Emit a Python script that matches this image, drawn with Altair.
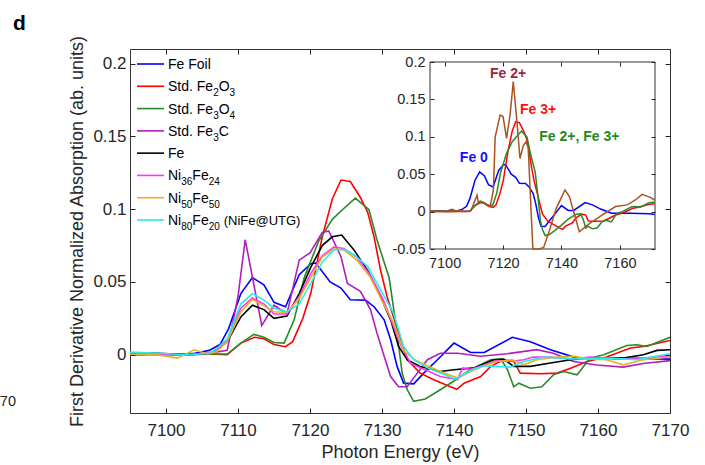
import altair as alt
import pandas as pd

FONT = "Liberation Sans"
INK = "#262626"
W, H = 540, 364

# ---------------- series data (photon energy / eV, first-derivative normalized absorption) ----------
fe_foil_E = [7095, 7098, 7101, 7104, 7106, 7107.5, 7108.7, 7110.4, 7112, 7113.6,
             7115, 7116.6, 7118.5, 7120.1, 7120.8, 7122.8, 7124.3, 7125.6, 7127.7, 7128.9,
             7130.3, 7131.2, 7132.1, 7133, 7134.4, 7135.8, 7137.7, 7140, 7142.3, 7144.2,
             7148.1, 7150.6, 7153.4, 7157.1, 7163.5, 7170, 7171.9]
fe_foil_y = [0.001, 0.001, 0.0, 0.001, 0.003, 0.007, 0.018, 0.042, 0.053, 0.048,
             0.036, 0.033, 0.055, 0.0625, 0.063, 0.050, 0.0458, 0.0378, 0.0375, 0.033,
             0.024, 0.0103, -0.008, -0.0195, -0.020, -0.0126, -0.0034, 0.008, 0.0016, 0.0016,
             0.012, 0.009, 0.0034, -0.0023, -0.0023, -0.003, -0.004]

fe2o3_E = [7095, 7099, 7103, 7106, 7108.5, 7110.4, 7112.3, 7113.6, 7115, 7116.6,
           7117.6, 7119, 7120.1, 7121.7, 7123.1, 7124.3, 7125.6, 7127, 7128, 7128.9,
           7129.8, 7130.7, 7131.6, 7132.6, 7133.5, 7135.3, 7137.2, 7139.5, 7140.4, 7141.4,
           7143.7, 7145.1, 7146.9, 7148.3, 7149.2, 7152, 7154.3, 7156.2, 7158.5, 7161.2,
           7164.5, 7166.3, 7170, 7171.9]
fe2o3_y = [0.0, 0.0005, 0.0, 0.0005, 0.0, 0.008, 0.012, 0.011, 0.007, 0.0055,
           0.009, 0.025, 0.042, 0.081, 0.107, 0.120, 0.119, 0.108, 0.098, 0.081,
           0.058, 0.040, 0.026, 0.0103, -0.0034, -0.0126, -0.0172, -0.022, -0.0237, -0.0195,
           -0.015, -0.008, -0.0034, -0.0046, -0.0126, -0.013, -0.0126, -0.0092, -0.0046, -0.0016,
           0.0046, 0.0057, 0.0098, 0.0106]

fe3o4_E = [7095, 7099, 7103, 7106, 7108.5, 7110.4, 7112.2, 7113.6, 7115, 7116.4,
           7117.8, 7119.2, 7121.2, 7123.1, 7124.5, 7126.3, 7128.2, 7129.3, 7131, 7131.9,
           7132.8, 7133.5, 7134.4, 7136, 7138.1, 7140, 7142.3, 7145.1, 7146.5, 7147.4,
           7148.3, 7149, 7150.6, 7152.2, 7153.8, 7155.2, 7157.1, 7158.9, 7160.8, 7164,
           7165.4, 7166.8, 7168.6, 7170, 7171.9]
fe3o4_y = [0.0, 0.0005, 0.0, 0.0005, 0.0005, 0.008, 0.014, 0.012, 0.0084, 0.008,
           0.024, 0.053, 0.078, 0.093, 0.0996, 0.1076, 0.0996, 0.079, 0.0527, 0.022,
           -0.0126, -0.024, -0.032, -0.0304, -0.024, -0.018, -0.010, -0.0034, -0.003, -0.010,
           -0.022, -0.0195, -0.023, -0.022, -0.0138, -0.0115, -0.0138, -0.0023, 0.0, 0.0064,
           0.0069, 0.0057, 0.0092, 0.012, 0.0128]

fe3c_E = [7095, 7099, 7103, 7106, 7108.5, 7110, 7111, 7113.3, 7115, 7116.8,
          7118.5, 7120, 7121.7, 7122.6, 7124.3, 7125.2, 7127, 7128.4, 7129.3, 7130.3,
          7131.2, 7132.3, 7133.5, 7134.9, 7136.3, 7138.1, 7140.5, 7143.7, 7147.4, 7151.5,
          7153.8, 7156.6, 7159.8, 7163.5, 7166.3, 7170]
fe3c_y = [0.0, 0.0, 0.0005, 0.001, 0.003, 0.040, 0.079, 0.020, 0.034, 0.028,
          0.065, 0.070, 0.084, 0.085, 0.0675, 0.049, 0.0435, 0.031, 0.015, -0.001,
          -0.015, -0.022, -0.022, -0.0126, -0.0034, 0.001, 0.001, -0.001, 0.0007, 0.0035,
          0.001, -0.0046, -0.007, -0.0085, -0.006, -0.004]

fe_E = [7095, 7099, 7103, 7106, 7107, 7108.5, 7110.4, 7112, 7113.6, 7115,
        7116.8, 7118.5, 7120.1, 7121.7, 7123.1, 7124.4, 7126.1, 7128, 7129.8, 7131.2,
        7132.3, 7133.5, 7135.3, 7138.1, 7140, 7142.8, 7145.5, 7146.9, 7148.3, 7150.6,
        7153.4, 7156.2, 7159, 7163.5, 7166.3, 7168.2, 7170]
fe_y = [0.001, 0.001, 0.0, 0.001, 0.003, 0.009, 0.026, 0.034, 0.031, 0.025,
        0.0266, 0.042, 0.060, 0.075, 0.081, 0.0822, 0.072, 0.058, 0.040, 0.024,
        0.0057, -0.0034, -0.008, -0.0115, -0.0103, -0.009, -0.0034, -0.003, -0.008, -0.008,
        -0.0057, -0.0034, -0.0023, -0.0023, 0.0, 0.003, 0.0034]

ni36_E = [7095, 7099, 7103, 7106, 7107, 7108.5, 7110.4, 7112, 7113.6, 7115,
          7116.8, 7118.5, 7120.1, 7121.7, 7123.3, 7124.7, 7126.5, 7128.4, 7130.2, 7131.6,
          7132.8, 7134, 7136, 7138.1, 7140.5, 7141.2, 7142.3, 7144.2, 7146, 7147.8,
          7149.7, 7151, 7153.4, 7156.2, 7159, 7162.6, 7166.3, 7170]
ni36_y = [0.001, 0.0, 0.0, 0.001, 0.003, 0.010, 0.032, 0.039, 0.035, 0.028,
          0.028, 0.040, 0.0557, 0.068, 0.074, 0.073, 0.067, 0.0545, 0.0375, 0.0195,
          0.0046, -0.006, -0.0103, -0.015, -0.017, -0.009, -0.010, -0.007, -0.004, -0.0046,
          -0.0034, -0.0016, -0.0016, -0.003, -0.0016, -0.003, -0.0023, -0.0007]

ni50_E = [7095, 7098, 7101.6, 7103.9, 7105.8, 7107, 7108.5, 7110.4, 7112, 7113.6,
          7115, 7116.8, 7118.5, 7120.1, 7121.7, 7123.3, 7124.7, 7126.5, 7128.4, 7130,
          7131.6, 7133, 7134.4, 7136.3, 7138.1, 7140.5, 7142.3, 7144.2, 7146, 7148.1,
          7149.7, 7151.5, 7154.3, 7156.6, 7159, 7161.2, 7163.5, 7166.3, 7170]
ni50_y = [0.0, 0.0005, -0.0023, 0.0034, 0.0005, 0.002, 0.009, 0.0295, 0.038, 0.0336,
          0.0295, 0.029, 0.0386, 0.053, 0.067, 0.0727, 0.072, 0.065, 0.053, 0.037,
          0.022, 0.003, -0.003, -0.0076, -0.0115, -0.016, -0.0115, -0.0076, -0.0046, -0.0034,
          -0.0069, -0.0034, -0.0016, -0.001, -0.003, -0.0034, -0.0069, -0.0034, -0.0015]

ni80_E = [7095, 7099, 7103, 7106, 7107, 7108.5, 7110.4, 7112, 7113.6, 7115,
          7116.8, 7118.5, 7120.1, 7121.7, 7123.3, 7124.7, 7126.1, 7128, 7129.8, 7131.6,
          7133, 7134.4, 7136.3, 7138.1, 7140.2, 7142.5, 7144.2, 7146, 7147.8, 7149.7,
          7152.5, 7155.2, 7158, 7161.7, 7165.4, 7170]
ni80_y = [0.0018, 0.001, 0.0, 0.001, 0.004, 0.011, 0.035, 0.042, 0.0375, 0.032,
          0.0295, 0.035, 0.049, 0.0636, 0.072, 0.0725, 0.0687, 0.0607, 0.0446, 0.0286,
          0.0057, -0.0034, -0.009, -0.0126, -0.0168, -0.0103, -0.0076, -0.008, -0.0085, -0.0046,
          -0.0016, -0.0023, -0.003, -0.0023, -0.0034, 0.0007]

# Fe 2+ reference, shown only in the inset
fe2_E = [7095, 7100, 7102.5, 7104, 7107, 7109, 7111.1, 7111.6, 7112.5, 7115.6,
         7116.7, 7117.3, 7119, 7120, 7121.2, 7122.4, 7123.5, 7124.6, 7125.8, 7126.9,
         7127.8, 7128.6, 7130.2, 7132.3, 7133.9, 7135.9, 7138.2, 7141.2, 7142.7, 7146.1,
         7149.5, 7154, 7158.5, 7162.5, 7165.3, 7167.6, 7170.4, 7171.9]
fe2_y = [0.001, 0.0, 0.003, 0.001, 0.0, 0.001, 0.022, 0.011, 0.013, 0.007,
         0.029, 0.100, 0.129, 0.127, 0.098, 0.129, 0.174, 0.127, 0.071, 0.088,
         0.093, 0.086, -0.070, -0.070, -0.048, -0.025, 0.0044, 0.029, 0.020, -0.027,
         -0.016, -0.0045, 0.0068, 0.009, 0.0155, 0.023, 0.019, 0.0155]

series_names = ["Fe Foil", "Std. Fe2O3", "Std. Fe3O4", "Std. Fe3C", "Fe",
                "Ni36Fe24", "Ni50Fe50", "Ni80Fe20 (NiFe@UTG)"]
series_colors = ["#0000ff", "#ff0000", "#2a8a2a", "#b01fbe", "#000000",
                 "#ff33ff", "#edb120", "#22eef0"]
series_E = [fe_foil_E, fe2o3_E, fe3o4_E, fe3c_E, fe_E, ni36_E, ni50_E, ni80_E]
series_y = [fe_foil_y, fe2o3_y, fe3o4_y, fe3c_y, fe_y, ni36_y, ni50_y, ni80_y]

# legend label pieces: (text, kind) with kind n=normal, s=subscript, p=parenthetical
legend_parts = [
    [("Fe Foil", "n")],
    [("Std. Fe", "n"), ("2", "s"), ("O", "n"), ("3", "s")],
    [("Std. Fe", "n"), ("3", "s"), ("O", "n"), ("4", "s")],
    [("Std. Fe", "n"), ("3", "s"), ("C", "n")],
    [("Fe", "n")],
    [("Ni", "n"), ("36", "s"), ("Fe", "n"), ("24", "s")],
    [("Ni", "n"), ("50", "s"), ("Fe", "n"), ("50", "s")],
    [("Ni", "n"), ("80", "s"), ("Fe", "n"), ("20", "s"), ("(NiFe@UTG)", "p")],
]

inset_notes = ["Fe 2+", "Fe 3+", "Fe 2+, Fe 3+", "Fe 0"]
inset_note_colors = ["#9c2638", "#ff1010", "#1f8a1f", "#1010ff"]
inset_note_E = [7121.7, 7132.0, 7146.1, 7110.0]
inset_note_y = [0.184, 0.136, 0.100, 0.072]

main_x_ticks = [7100, 7110, 7120, 7130, 7140, 7150, 7160, 7170]
main_y_ticks = [0, 0.05, 0.1, 0.15, 0.2]
inset_x_ticks = [7100, 7120, 7140, 7160]
inset_y_ticks = [-0.05, 0, 0.05, 0.1, 0.15, 0.2]

MAIN_X = [7095, 7170]
MAIN_Y = [-0.04, 0.21]
INSET_X = [7095, 7172]
INSET_Y = [-0.05, 0.2]

# ---------------- scales ----------------
xm = alt.Scale(domain=MAIN_X, range=[0, W], nice=False, zero=False)
ym = alt.Scale(domain=MAIN_Y, range=[H, 0], nice=False, zero=False)
xi = alt.Scale(domain=INSET_X, range=[300, 525], nice=False, zero=False)
yi = alt.Scale(domain=INSET_Y, range=[200, 13], nice=False, zero=False)
yi_clamp = alt.Scale(domain=INSET_Y, range=[200, 13], nice=False, zero=False, clamp=True)

ax_common = dict(domain=False, grid=False, labelFont=FONT, labelColor=INK, tickColor=INK,
                 titleFont=FONT, titleColor=INK, titleFontWeight="normal", zindex=1,
                 labelFlush=False, labelOverlap=False)

main_xaxis = alt.Axis(orient="bottom", offset=-5, tickSize=5, values=main_x_ticks, format="d",
                      labelFontSize=17, labelPadding=9, title="Photon Energy (eV)",
                      titleFontSize=18, titlePadding=5, **ax_common)
main_yaxis = alt.Axis(orient="left", offset=-5, tickSize=5, values=main_y_ticks, format="~g",
                      labelFontSize=17, labelPadding=4,
                      title="First Derivative Normalized Absorption (ab. units)",
                      titleFontSize=18, titlePadding=6, **ax_common)
main_top = alt.Axis(orient="top", offset=-5, tickSize=5, values=main_x_ticks, labels=False,
                    title=None, **ax_common)
main_right = alt.Axis(orient="right", offset=-5, tickSize=5, values=main_y_ticks, labels=False,
                      title=None, **ax_common)

minus_fix = "replace(format(datum.value, '~g'), '\u2212', '-')"
inset_xaxis = alt.Axis(orient="bottom", offset=-168, tickSize=4, values=inset_x_ticks, format="d",
                       labelFontSize=14.5, labelPadding=7, title=None, **ax_common)
inset_yaxis = alt.Axis(orient="left", offset=-304, tickSize=4, values=inset_y_ticks,
                       labelExpr=minus_fix, labelFontSize=14.5, labelPadding=5, title=None,
                       **ax_common)
inset_top = alt.Axis(orient="top", offset=-17, tickSize=4, values=inset_x_ticks, labels=False,
                     title=None, **ax_common)
inset_right = alt.Axis(orient="right", offset=-19, tickSize=4, values=inset_y_ticks, labels=False,
                       title=None, **ax_common)

layers = []

# ---------------- main curves ----------------
for k, (name, col, es, vs) in enumerate(zip(series_names, series_colors, series_E, series_y)):
    df = pd.DataFrame({"E": es, "v": vs})
    layers.append(
        alt.Chart(df).mark_line(color=col, strokeWidth=1.6, clip=True).encode(
            x=alt.X("E:Q", scale=xm, axis=main_xaxis if k == 0 else None),
            y=alt.Y("v:Q", scale=ym, axis=main_yaxis if k == 0 else None),
            order=alt.Order("E:Q"),
        )
    )

# mirrored ticks on top / right of the main box
tick_df = pd.DataFrame({"E": fe_foil_E, "v": fe_foil_y})
layers.append(
    alt.Chart(tick_df).mark_point(opacity=0).encode(
        x=alt.X("E:Q", scale=xm, axis=main_top),
        y=alt.Y("v:Q", scale=ym, axis=main_right),
    )
)

# ---------------- inset ----------------
frame_df = pd.DataFrame({"x0": [INSET_X[0]], "x1": [INSET_X[1]],
                         "y0": [INSET_Y[0]], "y1": [INSET_Y[1]]})
layers.append(
    alt.Chart(frame_df).mark_rect(fill="white", stroke="#333333", strokeWidth=1).encode(
        x=alt.X("x0:Q", scale=xi, axis=None), x2="x1:Q",
        y=alt.Y("y0:Q", scale=yi, axis=None), y2="y1:Q",
    )
)

inset_sets = [(fe_foil_E, fe_foil_y, series_colors[0], yi),
              (fe2o3_E, fe2o3_y, series_colors[1], yi),
              (fe3o4_E, fe3o4_y, series_colors[2], yi),
              (fe2_E, fe2_y, "#a8541f", yi_clamp)]
for k, (es, vs, col, ysc) in enumerate(inset_sets):
    df = pd.DataFrame({"E": es, "v": vs})
    layers.append(
        alt.Chart(df).mark_line(color=col, strokeWidth=1.5).encode(
            x=alt.X("E:Q", scale=xi, axis=inset_xaxis if k == 0 else None),
            y=alt.Y("v:Q", scale=ysc, axis=inset_yaxis if k == 0 else None),
            order=alt.Order("E:Q"),
        )
    )

layers.append(
    alt.Chart(tick_df).mark_point(opacity=0).encode(
        x=alt.X("E:Q", scale=xi, axis=inset_top),
        y=alt.Y("v:Q", scale=yi, axis=inset_right),
    )
)

notes_df = pd.DataFrame({"t": inset_notes, "c": inset_note_colors,
                         "E": inset_note_E, "v": inset_note_y})
layers.append(
    alt.Chart(notes_df).mark_text(font=FONT, fontSize=14, fontWeight="bold",
                                  align="center", baseline="middle").encode(
        x=alt.X("E:Q", scale=xi, axis=None),
        y=alt.Y("v:Q", scale=yi, axis=None),
        text="t:N",
        color=alt.Color("c:N", scale=None, legend=None),
    )
)

# ---------------- legend (MATLAB style, inside the axes) ----------------
ARIAL_W = {"F": 611, "e": 556, " ": 278, "o": 556, "i": 222, "l": 222, "S": 667, "t": 278,
           "d": 556, ".": 278, "O": 778, "C": 722, "N": 722, "(": 333, ")": 333, "@": 1015,
           "U": 722, "T": 611, "G": 778}
SIZES = {"n": 14, "s": 10, "p": 13}
DY = {"n": 5, "s": 10, "p": 5}


def seg_width(s, size):
    return sum(ARIAL_W.get(ch, 556) for ch in s) * size / 1000.0


seg_rows = []
for i, segs in enumerate(legend_parts):
    xpos = 38.0
    for txt, kind in segs:
        if kind == "p":
            xpos += seg_width(" ", SIZES["n"])
        seg_rows.append({"idx": i, "txt": txt, "xpos": xpos, "kind": kind})
        xpos += seg_width(txt, SIZES[kind])
seg_df = pd.DataFrame(seg_rows)

leg_scale_y = alt.Scale(domain=[0, len(series_names) - 1], range=[15, 171], nice=False, zero=False)
ident_x = alt.Scale(domain=[0, W], range=[0, W], nice=False, zero=False)

leg_df = pd.DataFrame({"idx": list(range(len(series_names))), "name": series_names})
layers.append(
    alt.Chart(leg_df).mark_rule(strokeWidth=1.6).encode(
        x=alt.value(7), x2=alt.value(34),
        y=alt.Y("idx:Q", scale=leg_scale_y, axis=None),
        color=alt.Color("name:N", scale=alt.Scale(domain=series_names, range=series_colors),
                        legend=None),
    )
)
for kind in ["n", "s", "p"]:
    sub = seg_df[seg_df["kind"] == kind]
    layers.append(
        alt.Chart(sub).mark_text(font=FONT, fontSize=SIZES[kind], align="left",
                                 baseline="alphabetic", dy=DY[kind], color="#000000").encode(
            x=alt.X("xpos:Q", scale=ident_x, axis=None),
            y=alt.Y("idx:Q", scale=leg_scale_y, axis=None),
            text="txt:N",
        )
    )

# ---------------- panel letter and clipped neighbour label ----------------
layers.append(
    alt.Chart(pd.DataFrame({"t": ["d"]})).mark_text(
        font=FONT, fontSize=21, fontWeight="bold", align="left", baseline="alphabetic",
        color="#000000").encode(text="t:N", x=alt.value(-117), y=alt.value(-19))
)
layers.append(
    alt.Chart(pd.DataFrame({"t": ["70"]})).mark_text(
        font=FONT, fontSize=14.5, align="right", baseline="alphabetic",
        color=INK).encode(text="t:N", x=alt.value(-114), y=alt.value(357))
)

chart = alt.layer(*layers).resolve_scale(
    x="independent", y="independent", color="independent"
).properties(
    width=W, height=H,
    autosize=alt.AutoSizeParams(type="none"),
    padding={"left": 130, "top": 49, "right": 35, "bottom": 52},
    background="white",
).configure_view(stroke="#333333", strokeWidth=1)

chart.save("out.html", embed_options={"renderer": "svg", "actions": False})
